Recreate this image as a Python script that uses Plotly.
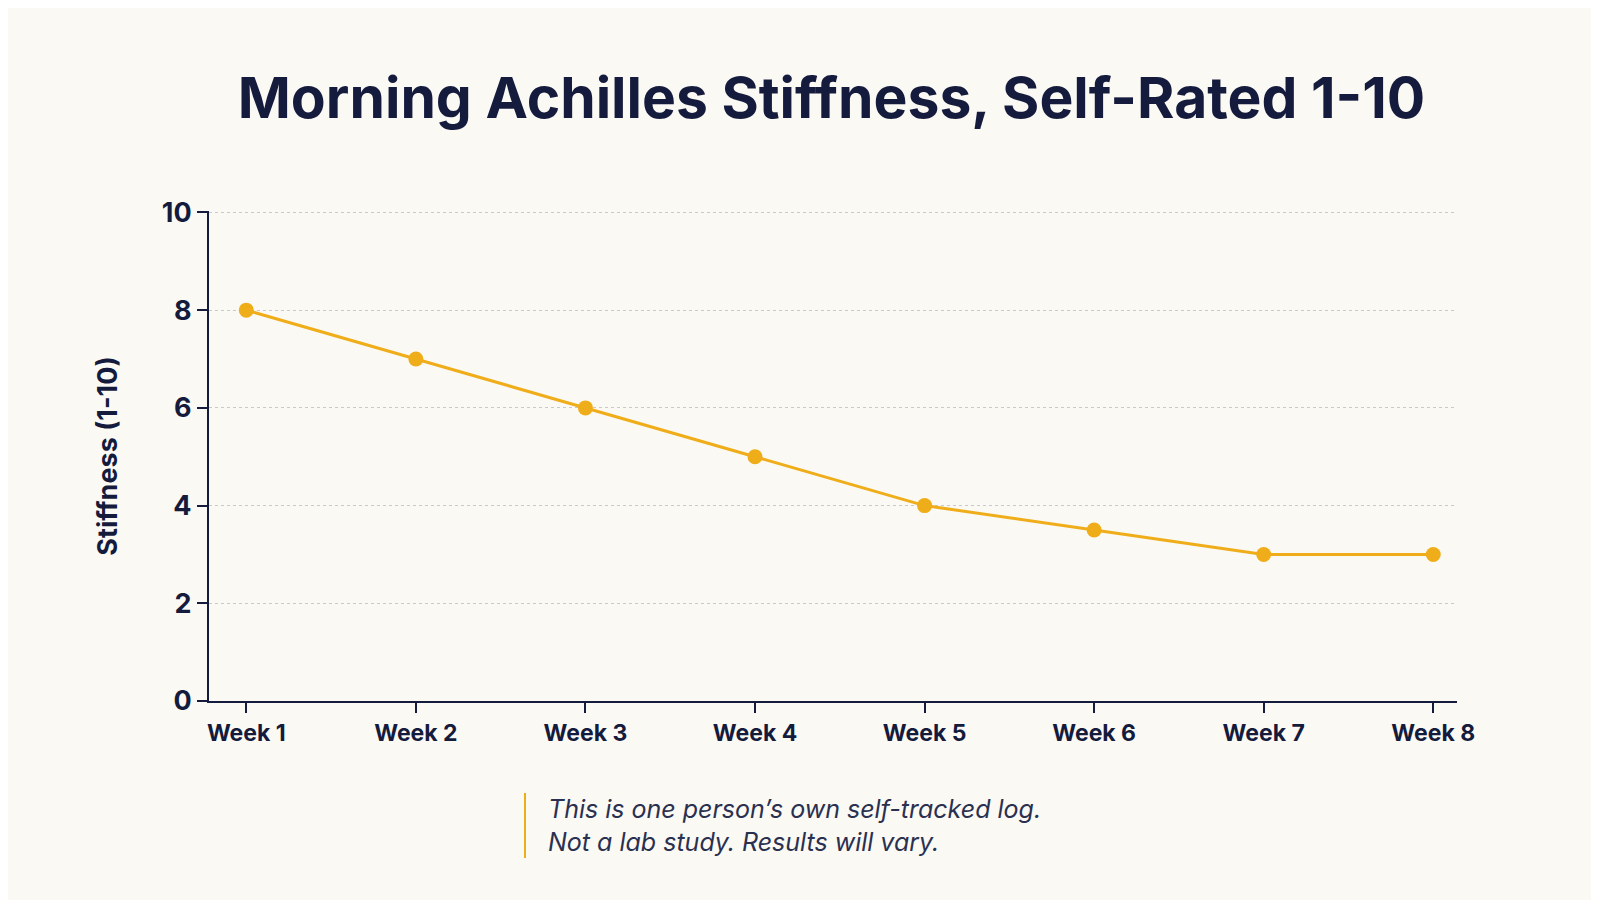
import plotly.graph_objects as go

weeks = ["Week 1", "Week 2", "Week 3", "Week 4", "Week 5", "Week 6", "Week 7", "Week 8"]
stiffness = [8, 7, 6, 5, 4, 3.5, 3, 3]
y_ticks = [0, 2, 4, 6, 8, 10]

navy = "#141B3C"
gold = "#F0AD1A"
bg = "#FBF9F4"

fig = go.Figure()
fig.add_trace(go.Scatter(
    x=list(range(len(weeks))), y=stiffness, mode="lines+markers",
    line=dict(color=gold, width=3),
    marker=dict(color=gold, size=15),
    hovertemplate="%{text}: %{y}<extra></extra>", text=weeks,
))

fig.update_layout(
    width=1599, height=900,
    paper_bgcolor=bg, plot_bgcolor=bg,
    margin=dict(l=201, r=150, t=203, b=207),
    font=dict(family="Inter, Lato, sans-serif", color=navy),
    showlegend=False,
    title=dict(text="<b>Morning Achilles Stiffness, Self-Rated 1-10</b>",
               x=0.515, xanchor="center", y=0.9, yanchor="middle",
               font=dict(size=57, color=navy)),
    xaxis=dict(
        range=[-0.22, 7.14], tickmode="array",
        tickvals=list(range(len(weeks))), ticktext=[f"<b>{w}</b>" for w in weeks],
        showgrid=False, zeroline=False,
        showline=True, linecolor=navy, linewidth=2,
        ticks="outside", ticklen=10, tickcolor=navy, tickwidth=2,
        tickfont=dict(size=23, color=navy, family="Inter"),
    ),
    yaxis=dict(
        range=[0, 10.03], tickmode="array", tickvals=y_ticks,
        ticktext=[f"<b>{v}</b>" for v in y_ticks],
        showgrid=True, gridcolor="#C9C9C9", griddash="dot", gridwidth=1,
        zeroline=False,
        showline=True, linecolor=navy, linewidth=2,
        ticks="outside", ticklen=10, tickcolor=navy, tickwidth=2,
        tickfont=dict(size=27, color=navy, family="Inter"),
        title=dict(text="<b>Stiffness (1-10)</b>", font=dict(size=27, color=navy), standoff=36),
    ),
)

fig.add_shape(type="line", xref="paper", yref="paper",
              x0=(517 - 201) / 1248, x1=(517 - 201) / 1248,
              y0=-(785 - 693) / 490, y1=-(850 - 693) / 490,
              line=dict(color=gold, width=2))
fig.add_annotation(
    xref="paper", yref="paper", x=(538 - 201) / 1248, y=-(817 - 693) / 490,
    xanchor="left", yanchor="middle", align="left", showarrow=False,
    text="<i>This is one person’s own self-tracked log.<br>Not a lab study. Results will vary.</i>",
    font=dict(size=25, color="#2A3050"),
)

fig.write_html("out.html")
